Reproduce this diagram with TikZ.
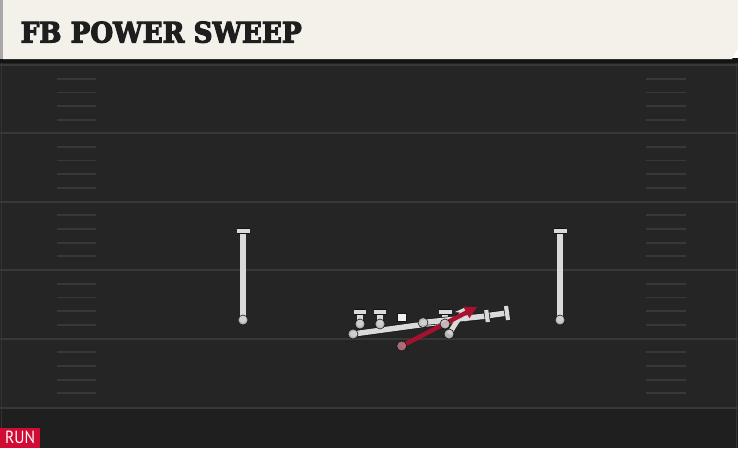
\documentclass[tikz,border=0pt]{standalone}
\usepackage{fontspec}
\usepackage{graphicx}
\usetikzlibrary{arrows.meta}
\newfontfamily\titlefont{DejaVu Serif}[UprightFont={* Bold},FakeBold=4]
\newfontfamily\tagfont{PT Sans}
\definecolor{cream}{HTML}{F4F1EA}
\definecolor{leftstrip}{HTML}{A8A8A8}
\definecolor{fieldbg}{HTML}{252525}
\definecolor{bottombg}{HTML}{1F1F1F}
\definecolor{shadowbg}{HTML}{141414}
\definecolor{lineclr}{HTML}{383838}
\definecolor{hashclr}{HTML}{383838}
\definecolor{edgeclr}{HTML}{333333}
\definecolor{titleclr}{HTML}{1E1E1E}
\definecolor{runred}{HTML}{D00C35}
\definecolor{rtgray}{HTML}{DADADA}
\definecolor{plgray}{HTML}{CFCFCF}
\definecolor{arrred}{HTML}{A8112D}
\definecolor{bcfill}{HTML}{B87A86}
\definecolor{outl}{HTML}{151515}
\begin{document}
\begin{tikzpicture}[x=1pt,y=-1pt,
  player/.style={circle,minimum size=10pt,inner sep=0pt,fill=plgray,draw=outl,line width=0.6pt,fill opacity=0.85},
  centerbox/.style={rectangle,minimum size=8.5pt,inner sep=0pt,fill=white!94!black,draw=outl,line width=0.6pt},
  route/.style={draw=rtgray,line width=5.5pt,line cap=round,preaction={draw=outl,line width=6.8pt,line cap=round}},
  tbar/.style={draw=rtgray,line width=4.2pt,preaction={draw=outl,line width=5.4pt}},
  yard/.style={draw=lineclr,line width=2pt},
  hash/.style={draw=hashclr,line width=1.8pt},
  runarrow/.style={draw=arrred,line width=4.4pt,-{Triangle[length=12pt,width=12pt]}},
  grayarrow/.style={draw=rtgray,line width=5pt,-{Stealth[length=10pt,width=13pt]}},
]
\useasboundingbox (0,0) rectangle (738,448);
% backgrounds
\fill[fieldbg] (0,58) rectangle (738,448);
\fill[bottombg] (0,408) rectangle (738,448);
\fill[shadowbg] (0,58) rectangle (738,63);
\fill[leftstrip] (0,0) rectangle (3,59);
\fill[cream] (3,0) -- (738,0) -- (738,48) -- (732,59) -- (3,59) -- cycle;
\draw[edgeclr,line width=1.5pt] (1.5,63) -- (1.5,448);
\draw[edgeclr,line width=1.5pt] (736.5,63) -- (736.5,448);
% yard lines
\foreach \y in {65,133,201.5,270,338.5,408} {\draw[yard] (0,\y) -- (738,\y);}
% hash marks
\foreach \s in {65,133,201.5,270,338.5} {
  \foreach \k in {1,2,3,4} {
    \draw[hash] (57,\s+13.7*\k) -- (96,\s+13.7*\k);
    \draw[hash] (646,\s+13.7*\k) -- (686,\s+13.7*\k);
  }
}
% title
\node[anchor=base west,inner sep=0pt,text=titleclr] (title) at (20.5,42.5)
  {\resizebox{281pt}{21pt}{\titlefont FB POWER SWEEP}};
% run tag
\node[anchor=south west,fill=runred,minimum width=40pt,minimum height=20pt,inner sep=0pt,text=white] (tag) at (0,448)
  {\resizebox{30pt}{12.5pt}{\tagfont RUN}};
% player positions
\coordinate (wrL) at (243,320); \coordinate (wrLt) at (243,231);
\coordinate (wrR) at (560,320); \coordinate (wrRt) at (560,231);
\coordinate (ol1) at (360,324); \coordinate (ol1t) at (360,312);
\coordinate (ol2) at (380,324); \coordinate (ol2t) at (380,312);
\coordinate (ctr) at (401.7,317.5);
\coordinate (ol3) at (423,322.5); \coordinate (ol3t) at (487,316);
\coordinate (ol4) at (445,324); \coordinate (ol4t) at (445,312);
\coordinate (te) at (449,334); \coordinate (tet) at (466,307);
\coordinate (fb) at (353,334); \coordinate (fbt) at (507,313);
\coordinate (bc) at (401.7,346); \coordinate (bct) at (477,307);
% receivers
\draw[route] (wrL) -- (wrLt);
\draw[tbar] (wrLt) ++(-6.5,0) -- ++(13,0);
\draw[route] (wrR) -- (wrRt);
\draw[tbar] (wrRt) ++(-6.5,0) -- ++(13,0);
% line blocks
\draw[route] (ol1) -- (ol1t);
\draw[tbar] (ol1t) ++(-6,0) -- ++(12,0);
\draw[route] (ol2) -- (ol2t);
\draw[tbar] (ol2t) ++(-6,0) -- ++(12,0);
\draw[route] (ol4) -- (ol4t);
\draw[tbar] (ol4t) ++(-6.5,0) -- ++(13,0);
% long routes
\draw[route] (fb) -- (fbt);
\draw[tbar] (fbt) ++(-1,-7) -- ++(2,14);
\draw[route] (ol3) -- (ol3t);
\draw[tbar] (ol3t) ++(-0.8,-6) -- ++(1.6,12);
\draw[grayarrow] (te) -- (tet);
% ball carrier
\draw[runarrow] (bc) -- (bct);
% players on top
\node[player] (wrLp) at (wrL) {};
\node[player] (wrRp) at (wrR) {};
\node[player] (ol1p) at (ol1) {};
\node[player] (ol2p) at (ol2) {};
\node[centerbox] (ctrp) at (ctr) {};
\node[player] (ol3p) at (ol3) {};
\node[player] (ol4p) at (ol4) {};
\node[player] (tep) at (te) {};
\node[player] (fbp) at (fb) {};
\node[player,fill=bcfill] (bcp) at (bc) {};
\end{tikzpicture}
\end{document}
